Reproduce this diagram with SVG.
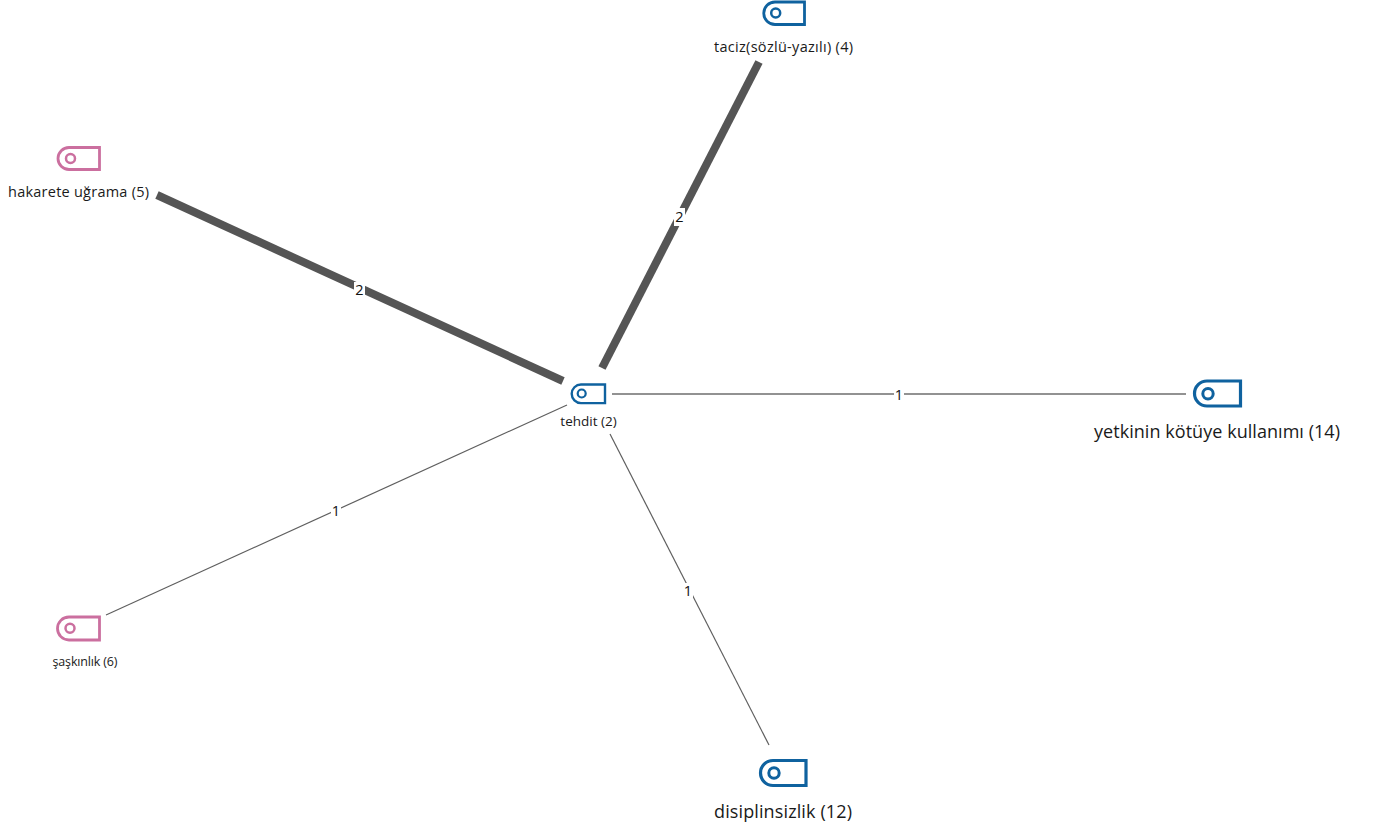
<svg xmlns="http://www.w3.org/2000/svg" width="1373" height="830" viewBox="0 0 1373 830">
<style>
text{font-family:"Open Sans","Noto Sans","Liberation Sans",sans-serif;fill:#1a1a1a;text-anchor:middle}
.s{font-size:13.5px}
.xs{font-size:12.5px}
.m{font-size:14.5px}
.l{font-size:18px}
.e{font-size:14.5px;fill:#111}
.ic{fill:#fff;stroke-linejoin:miter}
.blue{stroke:#0f629f}
.pink{stroke:#cb6f9f}
.c{fill:none}
.thin{stroke:#5f5f5f;stroke-width:1.2;fill:none}
.thick{stroke:#555;stroke-width:8;fill:none}
.lb{fill:#fff;stroke:none}
</style>
<rect width="1373" height="830" fill="#fff"/>
<g id="connectors">
<line class="thick" x1="157" y1="195" x2="563" y2="381"/>
<line class="thick" x1="759" y1="62" x2="602" y2="368"/>
<line class="thin" style="stroke:#6e6e6e;stroke-width:1.5" x1="612" y1="394" x2="1186" y2="394"/>
<line class="thin" x1="610" y1="434" x2="769" y2="745"/>
<line class="thin" x1="567" y1="405" x2="106" y2="615"/>
<rect class="lb" x="354" y="282" width="11" height="16"/><text class="e" x="359.500" y="295">2</text>
<rect class="lb" x="674" y="208" width="11" height="18"/><text class="e" x="679.500" y="222">2</text>
<rect class="lb" x="894" y="386" width="10" height="16"/><text class="e" x="899" y="399.500">1</text>
<rect class="lb" x="683" y="583" width="10" height="16"/><text class="e" x="688" y="596">1</text>
<rect class="lb" x="331" y="503" width="10" height="16"/><text class="e" x="336" y="516">1</text>
</g>
<g id="node-tehdit">
<path class="ic blue" stroke-width="2.400" d="M605 384.500H581a9.300 9.300 0 0 0 0 18.600H605Z"/>
<circle class="c blue" stroke-width="2.200" cx="581.700" cy="393.500" r="4"/>
<text class="s" x="588.500" y="425.500">tehdit (2)</text>
</g>
<g id="node-yetkinin">
<path class="ic blue" stroke-width="3.200" d="M1240.500 381H1207a12.500 12.500 0 0 0 0 25H1240.500Z"/>
<circle class="c blue" stroke-width="3" cx="1208" cy="393.700" r="5.200"/>
<text class="l" x="1217" y="437.500" textLength="246">yetkinin kötüye kullanımı (14)</text>
</g>
<g id="node-hakarete">
<path class="ic pink" stroke-width="2.800" d="M99.500 147.500H69a11 11 0 0 0 0 22H99.500Z"/>
<circle class="c pink" stroke-width="2.500" cx="70.500" cy="158.500" r="4.500"/>
<text class="m" x="78.500" y="197" textLength="141">hakarete uğrama (5)</text>
</g>
<g id="node-taciz">
<path class="ic blue" stroke-width="2.800" d="M804.500 2H775a11 11 0 0 0 0 22.500H804.500Z"/>
<circle class="c blue" stroke-width="2.500" cx="775.700" cy="13" r="4.500"/>
<text class="m" x="783.500" y="51.500" textLength="139">taciz(sözlü-yazılı) (4)</text>
</g>
<g id="node-disiplinsizlik">
<path class="ic blue" stroke-width="3.200" d="M806 760.500H773a12.500 12.500 0 0 0 0 25H806Z"/>
<circle class="c blue" stroke-width="3" cx="774" cy="773" r="5.200"/>
<text class="l" x="783" y="817.500" textLength="138">disiplinsizlik (12)</text>
</g>
<g id="node-saskinlik">
<path class="ic pink" stroke-width="2.800" d="M99.500 617H69a11.500 11.500 0 0 0 0 23H99.500Z"/>
<circle class="c pink" stroke-width="2.500" cx="70" cy="628.300" r="4.500"/>
<text class="xs" x="85" y="666" textLength="65">şaşkınlık (6)</text>
</g>
</svg>
